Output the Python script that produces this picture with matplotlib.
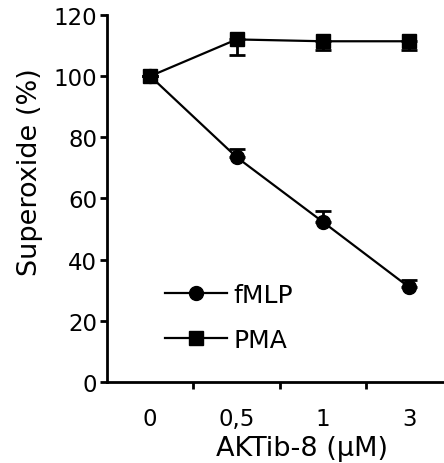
import matplotlib
matplotlib.use("Agg")
import matplotlib.pyplot as plt
from matplotlib.lines import Line2D

# doses (categorical) and superoxide values
doses = ["0", "0,5", "1", "3"]
fmlp = [100, 73.5, 52.3, 30.9]
fmlp_err = [0, 2.6, 3.6, 2.3]      # upper error only
pma = [100, 112.0, 111.4, 111.4]
pma_err = [0, 5.2, 3.0, 3.0]       # lower error only

plt.rcParams['font.family'] = ['DejaVu Sans']

fig = plt.figure(figsize=(4.44, 4.64), dpi=100)
ax = fig.add_axes([0.241, 0.1746, 0.759, 0.791])

x = list(range(len(doses)))

ax.errorbar(x, fmlp, yerr=[[0] * 4, fmlp_err], color="black", marker="o",
            markersize=10, linewidth=1.6, capsize=6, capthick=2, elinewidth=2,
            zorder=3)
ax.errorbar(x, pma, yerr=[pma_err, [0] * 4], color="black", marker="s",
            markersize=10.5, linewidth=1.6, capsize=6, capthick=2, elinewidth=2,
            zorder=4)

ax.set_ylim(0, 120)
ax.set_yticks([0, 20, 40, 60, 80, 100, 120])
ax.set_xlim(-0.5, 3.4)
ax.set_xticks(x)
ax.set_xticklabels(doses)
ax.set_xticks([0.5, 1.5, 2.5], minor=True)

for side in ["top", "right"]:
    ax.spines[side].set_visible(False)
for side in ["left", "bottom"]:
    ax.spines[side].set_linewidth(2)

ax.tick_params(axis="y", direction="out", length=5, width=2, labelsize=16.5, pad=2)
ax.tick_params(axis="x", which="major", length=0, labelsize=16.5, pad=18)
ax.tick_params(axis="x", which="minor", direction="out", length=5, width=2)

ax.set_ylabel("Superoxide (%)", fontsize=19.5)
ax.yaxis.set_label_coords(-0.19, 0.574)
ax.set_xlabel("AKTib-8 (µM)", fontsize=19.5)
ax.xaxis.set_label_coords(0.58, -0.145)

handles = [Line2D([], [], color="black", marker="o", markersize=10, linewidth=1.6),
           Line2D([], [], color="black", marker="s", markersize=10.5, linewidth=1.6)]
ax.legend(handles, ["fMLP", "PMA"], loc="center left", bbox_to_anchor=(0.172, 0.176),
          frameon=False, fontsize=18, handlelength=2.5, handletextpad=0.25,
          labelspacing=0.85, borderpad=0, borderaxespad=0)

fig.savefig("out.png", dpi=100)
